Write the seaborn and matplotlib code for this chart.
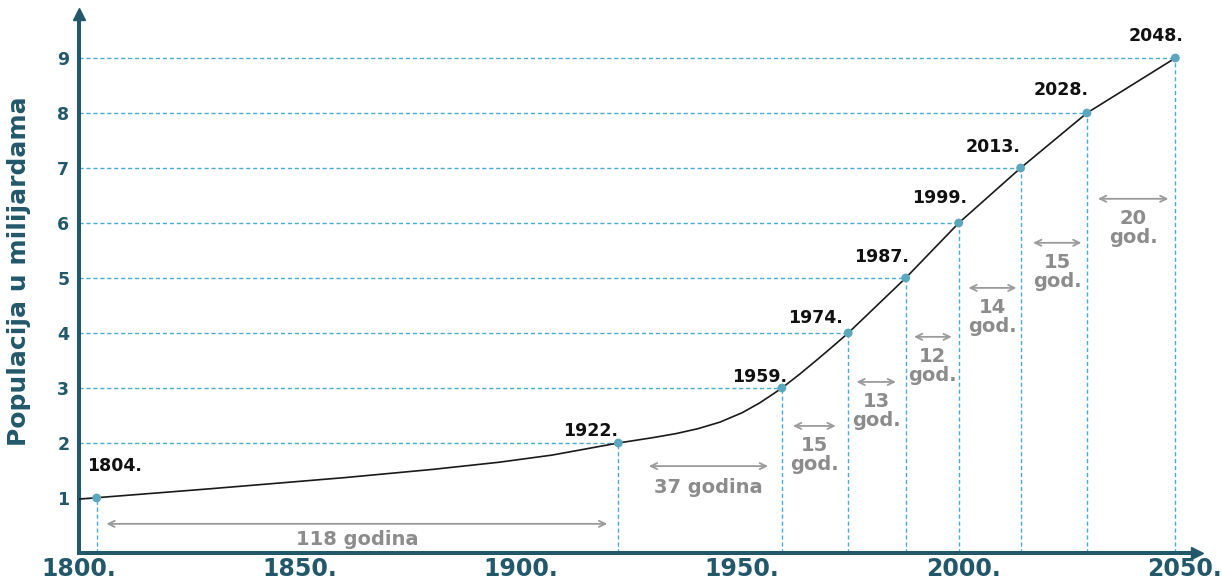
import matplotlib
matplotlib.use("Agg")
import matplotlib.pyplot as plt
import seaborn as sns
import pandas as pd

# ---------------- data ----------------
years = [1804, 1922, 1959, 1974, 1987, 1999, 2013, 2028, 2048]
population = [1, 2, 3, 4, 5, 6, 7, 8, 9]
year_labels = ["1804.", "1922.", "1959.", "1974.", "1987.", "1999.", "2013.", "2028.", "2048."]

# population curve
curve_years = [1800, 1830, 1860, 1880, 1895, 1907, 1922, 1930, 1935, 1940, 1945, 1950,
               1954, 1957, 1959, 1963, 1967.5, 1971, 1974, 1987, 1999, 2013, 2028, 2048]
curve_pop = [0.98, 1.17, 1.37, 1.52, 1.65, 1.78, 2.0, 2.1, 2.17, 2.26, 2.38, 2.55,
             2.73, 2.89, 3.0, 3.25, 3.55, 3.79, 4, 5, 6, 7, 8, 9]

interval_labels = ["118 godina", "37 godina", "15\ngod.", "13\ngod.", "12\ngod.",
                   "14\ngod.", "15\ngod.", "20\ngod."]

x_ticks = [1800, 1850, 1900, 1950, 2000, 2050]
x_tick_labels = ["1800.", "1850.", "1900.", "1950.", "2000.", "2050."]
y_ticks = [1, 2, 3, 4, 5, 6, 7, 8, 9]
y_label = "Populacija u milijardama"

# ---------------- layout / style ----------------
arrow_levels = [0.53, 1.58, 2.31, 3.11, 3.93, 4.82, 5.64, 6.44]
arrow_shrink_left = [7, 22, 8, 6, 6, 7, 9, 8]
arrow_shrink_right = [8, 10, 9, 7, 5, 3, 4, 5]
text_gap = [6, 12, 10, 10, 10, 10, 10, 10]
label_offsets = [(-10, 27), (0, 7), (5, 6), (-5, 10), (3, 16), (8, 20), (0, 16), (2, 18), (8, 17)]

TEAL = "#22586a"
DASH = "#4aaad2"
DOT = "#5aa7be"
GRAY = "#8c8c8c"
AGRAY = "#9b9b9b"

sns.set_style("white")
plt.rcParams["font.family"] = ["DejaVu Sans"]

fig = plt.figure(figsize=(12.22, 5.83), dpi=100)
ax = fig.add_axes([79 / 1222, 30 / 583, 1118 / 1222, 539 / 583])
ax.set_xlim(1800, 2052.9)
ax.set_ylim(0, 9.8)

# dashed guide lines
ax.hlines(population, 1800, years, colors=DASH, linestyles=(0, (3, 2)), lw=1.0, zorder=1)
ax.vlines(years, 0, population, colors=DASH, linestyles=(0, (3, 2)), lw=1.0, zorder=1)

# curve and points
curve = pd.DataFrame({"year": curve_years, "pop": curve_pop})
sns.lineplot(data=curve, x="year", y="pop", ax=ax, color="#1a1a1a", lw=1.2,
             estimator=None, sort=True, zorder=3)
pts = pd.DataFrame({"year": years, "pop": population})
sns.scatterplot(data=pts, x="year", y="pop", ax=ax, color=DOT, s=40,
                edgecolor="none", zorder=4)

# year labels
for i, (yr, p, lab) in enumerate(zip(years, population, year_labels)):
    dx, dy = label_offsets[i]
    ax.annotate(lab, (yr, p), xytext=(dx, dy), textcoords="offset pixels",
                ha="left" if i == 0 else "right", va="baseline",
                fontsize=12.5, fontweight="bold", color="#111111", zorder=5)

# interval arrows
for i in range(len(years) - 1):
    y0, y1 = years[i], years[i + 1]
    lev = arrow_levels[i]
    ax.annotate("", xy=(y1, lev), xytext=(y0, lev),
                arrowprops=dict(arrowstyle="<->,head_length=0.45,head_width=0.22",
                                color=AGRAY, lw=1.3,
                                shrinkA=arrow_shrink_left[i], shrinkB=arrow_shrink_right[i]))
    mid = (y0 + y1) / 2 + (arrow_shrink_left[i] - arrow_shrink_right[i]) / 2 / 4.42 * 1.389
    ax.annotate(interval_labels[i], (mid, lev), xytext=(0, -text_gap[i]),
                textcoords="offset pixels", ha="center", va="top",
                fontsize=14, fontweight="bold", color=GRAY, linespacing=1.0)

# axes styling
sns.despine(ax=ax)
for side in ["left", "bottom"]:
    ax.spines[side].set_color(TEAL)
    ax.spines[side].set_linewidth(2.9)
ax.plot(1, 0, ">", transform=ax.transAxes, clip_on=False, ms=9, color=TEAL)
ax.plot(0, 1, "^", transform=ax.transAxes, clip_on=False, ms=9, color=TEAL)

ax.set_xticks(x_ticks)
ax.set_xticklabels(x_tick_labels, fontsize=17, fontweight="bold", color=TEAL)
ax.set_yticks(y_ticks)
ax.set_yticklabels([str(v) for v in y_ticks], fontsize=12.5, fontweight="bold", color=TEAL)
ax.tick_params(axis="x", length=0, pad=3)
ax.tick_params(axis="y", length=0, pad=7)
ax.set_xlabel("")
ax.set_ylabel(y_label, fontsize=18, fontweight="bold", color=TEAL, va="center")
ax.yaxis.set_label_coords(-0.0537, 0.523)
ax.grid(False)

fig.savefig("out.png", dpi=100)
